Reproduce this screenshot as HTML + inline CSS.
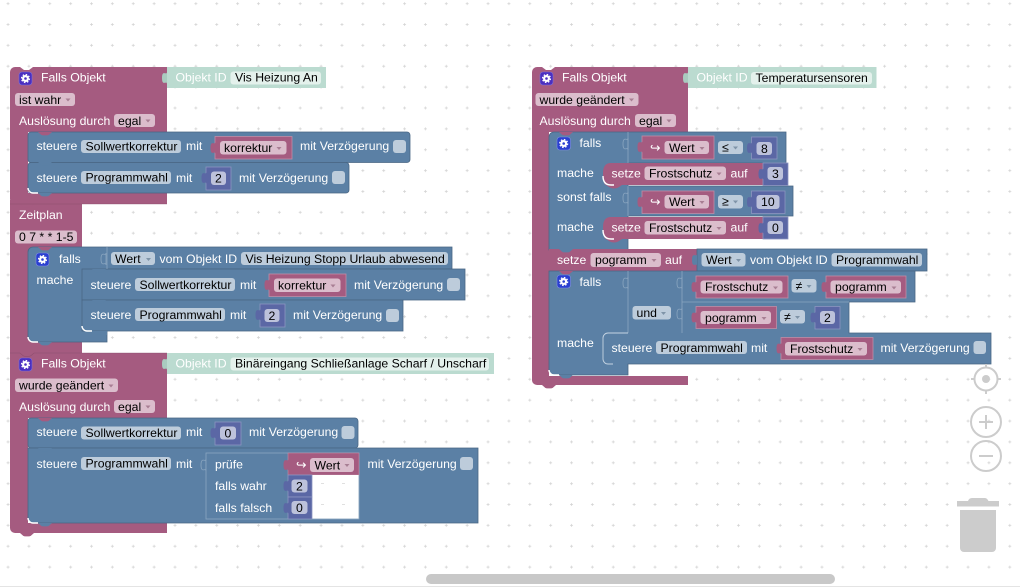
<!DOCTYPE html>
<html><head><meta charset="utf-8"><style>
html,body{margin:0;padding:0;background:#fff;width:1020px;height:587px;overflow:hidden}
svg{display:block}
text{font-family:"Liberation Sans",sans-serif;font-size:12.25px;fill:#fff;white-space:pre}
text.d{fill:#000}
.b{fill:#5b80a5;stroke:#496684;stroke-width:.8}
.n{fill:#5b67a5;stroke:#8c95c0;stroke-width:.8}
.v{fill:#a55b80;stroke:#c08da6;stroke-width:.8}
.fp{fill:#dbbdcc}.fb{fill:#bdccdb}.fn{fill:#bdc2db}.fg{fill:#e4f1ec}
.tp{fill:#a55b80}.tn{fill:#5b67a5}
.sock{fill:none;stroke:#8ba6c0;stroke-width:.8}
.ar{fill:#a87f94}.arb{fill:#7f94a8}
.nb{fill:#5b80a5}.np{fill:#a55b80}
.ctl{fill:none;stroke:#ccc;stroke-width:2}
.hl{fill:none;stroke:#fff;stroke-width:1.4}
.ic{fill:#4a2ec0;stroke:#7f70d8;stroke-width:.6}
.ib{fill:#2a3fd0;stroke:#7f8fe0;stroke-width:.6}
.gear{fill:none;stroke:#fff;stroke-width:2.2}
.teeth{fill:none;stroke:#fff;stroke-width:1.2;stroke-dasharray:1.6 1.54}
</style></head><body>
<svg width="1020" height="587" viewBox="0 0 1020 587" xmlns="http://www.w3.org/2000/svg">
<defs>
<pattern id="grid" x="6.04" y="1.65" width="20.87" height="20.87" patternUnits="userSpaceOnUse">
<path d="M.5 2H3.500M2 .5V3.500" stroke="#d2d2d2" stroke-width=".7"/>
</pattern>
<path id="n" d="M0 0l3 2.600q1 .8 2.500 .8h3q1.500 0 2.500-.8l3-2.600z"/>
<path id="t" d="M0 0c0 4-5-3-5 6s5 2 5 6z"/>
<path id="a" d="M0 0h5l-2.500 3z"/>
<g id="g"><circle cx="6.500" cy="6.500" r="2.400" class="gear"/><circle cx="6.500" cy="6.500" r="4" class="teeth"/></g>
</defs>
<rect width="1020" height="587" fill="#fff"/>
<rect width="1020" height="587" fill="url(#grid)"/>

<!-- LEFT: block 1 -->
<path class="tp" d="M10 72a5 5 0 0 1 5-5h5l4 3h5l4-3H167V132H28V193H167V204H82V357H28V204H15a5 5 0 0 1-5-5z"/>
<rect x="10" y="200" width="18" height="156" class="tp"/>
<rect x="167" y="67" width="159" height="21" fill="#bbdbd0"/>
<use href="#t" x="167" y="72" fill="#a9cbbf"/>
<rect x="19" y="72" width="13" height="13" rx="3" class="ic"/><use href="#g" x="19" y="72"/>
<text x="41" y="81.500">Falls Objekt</text>
<text x="175.500" y="81.500">Objekt ID</text>
<rect x="230.500" y="71.500" width="90.500" height="13" rx="3" class="fg"/><text class="d" x="235" y="81.500">Vis Heizung An</text>
<rect x="15" y="93" width="60" height="13" rx="3" class="fp"/><text class="d" x="19" y="104">ist wahr</text><use href="#a" x="65.500" y="98.500" class="ar"/>
<text x="19" y="125">Auslösung durch</text>
<rect x="114" y="114" width="41" height="13" rx="3" class="fp"/><text class="d" x="118" y="125">egal</text><use href="#a" x="145.500" y="119.500" class="ar"/>

<rect class="b" x="28" y="132" width="382" height="30.500" rx="3"/>
<rect class="b" x="28" y="162.500" width="321" height="30.500" rx="3"/>
<use href="#n" x="38" y="132" class="np"/><use href="#n" x="38" y="162" class="nb"/><use href="#n" x="38" y="193" class="nb"/>
<path class="hl" d="M28 188a5 5 0 0 0 5 5h5"/>
<text x="36.500" y="150">steuere</text>
<rect x="81" y="140" width="100" height="13" rx="3" class="fb"/><text class="d" x="85.500" y="150.500">Sollwertkorrektur</text>
<text x="186" y="150">mit</text>
<rect class="v" x="215" y="136.500" width="77" height="22.500"/><use href="#t" x="215.500" y="142" class="tp"/>
<rect x="220" y="141" width="66.500" height="13.500" rx="3" class="fp"/><text class="d" x="224" y="152">korrektur</text><use href="#a" x="276.500" y="147" class="ar"/>
<text x="300" y="150">mit Verzögerung</text>
<rect x="393" y="140" width="13" height="13" rx="3" class="fb"/>
<text x="36.500" y="182">steuere</text>
<rect x="81" y="171" width="90" height="13" rx="3" class="fb"/><text class="d" x="85.500" y="181.500">Programmwahl</text>
<text x="176" y="182">mit</text>
<rect class="n" x="206" y="167" width="25" height="23"/><use href="#t" x="206.500" y="172" class="tn"/>
<rect x="211" y="171.500" width="15" height="13.500" rx="3" class="fn"/><text class="d" x="215" y="182.500">2</text>
<text x="239" y="182">mit Verzögerung</text>
<rect x="332" y="171" width="13" height="13" rx="3" class="fb"/>
<use href="#n" x="20" y="204" class="np"/>
<path d="M10 204H167" stroke="#844966" stroke-width=".6" opacity=".7"/>

<!-- block 2 Zeitplan -->
<text x="19" y="219">Zeitplan</text>
<rect x="15" y="230.500" width="62" height="13" rx="3" class="fp"/><text class="d" x="19" y="241">0 7 * * 1-5</text>
<path class="b" d="M33 247H452V269H107V342H33a5 5 0 0 1-5-5V252a5 5 0 0 1 5-5z"/>
<rect class="b" x="82" y="269" width="383" height="31"/>
<rect class="b" x="82" y="300" width="321" height="31"/>
<rect x="88" y="331" width="19" height="4" class="nb"/>
<path d="M107 247v22" stroke="#8ba6c0" stroke-width=".8"/>
<use href="#n" x="38" y="247" class="np"/><use href="#n" x="92" y="300" class="nb"/><use href="#n" x="92" y="331" class="nb"/><use href="#n" x="38" y="342" class="nb"/>
<use href="#n" x="92" y="269" class="nb"/>
<path class="hl" d="M28 337a5 5 0 0 0 5 5h5M82 326a5 5 0 0 0 5 5h5"/>
<rect x="36" y="253" width="13" height="13" rx="3" class="ib"/><use href="#g" x="36" y="253"/>
<text x="59" y="263">falls</text>
<use href="#t" x="106" y="253" class="sock"/>
<rect x="111" y="252" width="44" height="13" rx="3" class="fb"/><text class="d" x="115" y="263">Wert</text><use href="#a" x="146" y="258" class="arb"/>
<text x="159.500" y="263">vom Objekt ID</text>
<rect x="241" y="252" width="207" height="13" rx="3" class="fb"/><text class="d" x="245.500" y="263">Vis Heizung Stopp Urlaub abwesend</text>
<text x="36.500" y="284">mache</text>
<text x="90.500" y="289">steuere</text>
<rect x="135" y="278" width="100" height="13" rx="3" class="fb"/><text class="d" x="139.500" y="289">Sollwertkorrektur</text>
<text x="240" y="289">mit</text>
<rect class="v" x="269" y="274" width="77" height="22.500"/><use href="#t" x="269.500" y="279" class="tp"/>
<rect x="274" y="278.500" width="66.500" height="13.500" rx="3" class="fp"/><text class="d" x="278" y="289.500">korrektur</text><use href="#a" x="330.500" y="284.500" class="ar"/>
<text x="354" y="289">mit Verzögerung</text>
<rect x="447" y="278" width="13" height="13" rx="3" class="fb"/>
<text x="90.500" y="319">steuere</text>
<rect x="135" y="308" width="90" height="13" rx="3" class="fb"/><text class="d" x="139.500" y="319">Programmwahl</text>
<text x="230" y="319">mit</text>
<rect class="n" x="260" y="304" width="25" height="23"/><use href="#t" x="260.500" y="309" class="tn"/>
<rect x="264.500" y="309" width="15" height="13" rx="3" class="fn"/><text class="d" x="268.500" y="320">2</text>
<text x="293" y="319">mit Verzögerung</text>
<rect x="386" y="309" width="13" height="13" rx="3" class="fb"/>

<!-- block 3 -->
<path class="tp" d="M10 353H167V418H28V523H167V533H15A5 5 0 0 1 10 528Z"/>
<use href="#n" x="20" y="533" class="np"/>
<path d="M10 353H20l3 2.600q1 .8 2.500 .8h3q1.500 0 2.500-.8l3-2.600H167" fill="none" stroke="#844966" stroke-width=".6" opacity=".7"/>
<rect x="167" y="353" width="327" height="21" fill="#bbdbd0"/>
<use href="#t" x="167" y="358" fill="#a9cbbf"/>
<rect x="19" y="358" width="13" height="13" rx="3" class="ic"/><use href="#g" x="19" y="358"/>
<text x="41" y="367.500">Falls Objekt</text>
<text x="175.500" y="367.500">Objekt ID</text>
<rect x="230.500" y="357.500" width="258.500" height="13" rx="3" class="fg"/><text class="d" x="235" y="367.500">Binäreingang Schließanlage Scharf / Unscharf</text>
<rect x="15" y="378.500" width="103" height="13.500" rx="3" class="fp"/><text class="d" x="19" y="389.500">wurde geändert</text><use href="#a" x="108.500" y="384.500" class="ar"/>
<text x="19" y="411">Auslösung durch</text>
<rect x="114" y="400" width="41" height="13" rx="3" class="fp"/><text class="d" x="118" y="411">egal</text><use href="#a" x="145.500" y="405.500" class="ar"/>

<rect class="b" x="28" y="418" width="330" height="30" rx="3"/>
<path class="b" d="M28 448H478V523H33a5 5 0 0 1-5-5z"/>
<use href="#n" x="38" y="418" class="np"/><use href="#n" x="38" y="448" class="nb"/><use href="#n" x="38" y="523" class="nb"/>
<path class="hl" d="M28 518a5 5 0 0 0 5 5h5"/>
<text x="36.500" y="436">steuere</text>
<rect x="81" y="426.500" width="100" height="13" rx="3" class="fb"/><text class="d" x="85.500" y="437">Sollwertkorrektur</text>
<text x="186" y="436">mit</text>
<rect class="n" x="215" y="422" width="26" height="23"/><use href="#t" x="215.500" y="427" class="tn"/>
<rect x="220" y="426.500" width="16" height="13" rx="3" class="fn"/><text class="d" x="224.500" y="437.500">0</text>
<text x="249" y="436">mit Verzögerung</text>
<rect x="341.500" y="426" width="13" height="13" rx="3" class="fb"/>
<text x="36.500" y="468">steuere</text>
<rect x="81" y="457" width="90" height="13" rx="3" class="fb"/><text class="d" x="85.500" y="467.500">Programmwahl</text>
<text x="176" y="468">mit</text>
<use href="#t" x="206" y="459" class="sock"/>
<rect x="206" y="453" width="153" height="66" fill="#5b80a5" stroke="#8ba6c0" stroke-width=".8"/>
<rect x="288" y="453" width="71" height="22" fill="#a55b80" stroke="#c08da6" stroke-width=".6"/>
<rect x="312" y="475" width="46.600" height="43.600" fill="#fff"/>
<g fill="#d2d2d2"><rect x="321" y="483" width="3" height=".7"/><rect x="342" y="483" width="3" height=".7"/><rect x="321" y="504" width="3" height=".7"/><rect x="342" y="504" width="3" height=".7"/></g>
<rect class="n" x="288" y="475" width="24" height="22"/><rect class="n" x="288" y="497" width="24" height="22"/>
<use href="#t" x="288.500" y="459" class="tp"/><use href="#t" x="288.500" y="480" class="tn"/><use href="#t" x="288.500" y="502" class="tn"/>
<text x="215" y="468.500">prüfe</text>
<text x="296" y="469">↪</text>
<rect x="310" y="458" width="44" height="14" rx="3" class="fp"/><text class="d" x="314.500" y="469.500">Wert</text><use href="#a" x="344.500" y="464" class="ar"/>
<text x="215" y="490">falls wahr</text>
<rect x="291.500" y="479.500" width="16" height="13" rx="3" class="fn"/><text class="d" x="296" y="490.500">2</text>
<text x="215" y="512">falls falsch</text>
<rect x="291.500" y="501" width="16" height="13" rx="3" class="fn"/><text class="d" x="296" y="512">0</text>
<text x="367.500" y="468">mit Verzögerung</text>
<rect x="460" y="457" width="13" height="13" rx="3" class="fb"/>

<!-- RIGHT block -->
<path class="tp" d="M532 72a5 5 0 0 1 5-5h5l4 3h5l4-3H688V132H549V376H688V385H537a5 5 0 0 1-5-5z"/>
<use href="#n" x="542" y="385" class="np"/>
<rect x="688" y="67" width="188.500" height="21" fill="#bbdbd0"/>
<use href="#t" x="688" y="72" fill="#a9cbbf"/>
<rect x="540" y="72" width="13" height="13" rx="3" class="ic"/><use href="#g" x="540" y="72"/>
<text x="562" y="81.500">Falls Objekt</text>
<text x="696.500" y="81.500">Objekt ID</text>
<rect x="751" y="72" width="121" height="12.500" rx="3" class="fg"/><text class="d" x="755.500" y="82">Temperatursensoren</text>
<rect x="535.500" y="93" width="103" height="13" rx="3" class="fp"/><text class="d" x="539.500" y="104">wurde geändert</text><use href="#a" x="629" y="98.500" class="ar"/>
<text x="539.500" y="125">Auslösung durch</text>
<rect x="635" y="114" width="41" height="13" rx="3" class="fp"/><text class="d" x="639" y="125">egal</text><use href="#a" x="666.500" y="119.500" class="ar"/>

<path class="b" d="M554 132H786V163H628V186H793V216H628V250H549V137a5 5 0 0 1 5-5z"/>
<use href="#n" x="559" y="132" class="np"/>
<path d="M628 132v31M628 186v30" stroke="#8ba6c0" stroke-width=".8"/>
<rect x="557" y="137" width="13.500" height="13" rx="3" class="ib"/><use href="#g" x="557.200" y="137"/>
<text x="579.500" y="147">falls</text>
<use href="#t" x="628" y="138" class="sock"/>
<rect class="v" x="642" y="136" width="72" height="23"/><use href="#t" x="642.500" y="141" class="tp"/>
<text x="650" y="152">↪</text>
<rect x="664.500" y="141" width="44.500" height="13" rx="3" class="fp"/><text class="d" x="669" y="152">Wert</text><use href="#a" x="699.500" y="147" class="ar"/>
<rect x="718" y="141" width="25" height="13" rx="3" class="fb"/><text class="d" x="722" y="151.500">≤</text><use href="#a" x="733" y="146.500" class="arb"/>
<rect class="n" x="751.500" y="137" width="25.500" height="22"/><use href="#t" x="752" y="142" class="tn"/>
<rect x="756.500" y="142" width="15.500" height="13" rx="3" class="fn"/><text class="d" x="761" y="153">8</text>
<text x="557" y="177">mache</text>
<path class="tp" d="M603 173q0-10 8-10H788V185H622l-3 2q-2 1.500-5 1.500t-5-1.500l-3-2q-3-.5-3-12z"/>
<path class="hl" d="M603 176q0 9 8 9h3"/>
<rect class="n" x="763" y="163" width="25" height="22.500"/><use href="#t" x="763.500" y="168" class="tn"/>
<text x="611.500" y="177.500">setze</text>
<rect x="644.500" y="166.500" width="81.500" height="13.500" rx="3" class="fp"/><text class="d" x="649" y="177.500">Frostschutz</text><use href="#a" x="716.500" y="172.500" class="ar"/>
<text x="730.500" y="177.500">auf</text>
<rect x="767.500" y="167" width="15.500" height="13" rx="3" class="fn"/><text class="d" x="772" y="178">3</text>

<text x="557" y="201">sonst falls</text>
<use href="#t" x="628" y="192" class="sock"/>
<rect class="v" x="642" y="191" width="72" height="22.500"/><use href="#t" x="642.500" y="196" class="tp"/>
<text x="650" y="206">↪</text>
<rect x="664.500" y="195" width="44.500" height="13.500" rx="3" class="fp"/><text class="d" x="669" y="206">Wert</text><use href="#a" x="699.500" y="201" class="ar"/>
<rect x="718" y="195" width="25" height="13.500" rx="3" class="fb"/><text class="d" x="722" y="205.500">≥</text><use href="#a" x="733" y="200.500" class="arb"/>
<rect class="n" x="751.500" y="191" width="33.500" height="22.500"/><use href="#t" x="752" y="196" class="tn"/>
<rect x="756.500" y="195" width="23" height="14" rx="3" class="fn"/><text class="d" x="761" y="206">10</text>
<text x="557" y="231">mache</text>
<path class="tp" d="M603 227q0-10 8-10H788V239H622l-3 2q-2 1.500-5 1.500t-5-1.500l-3-2q-3-.5-3-12z"/>
<path class="hl" d="M603 230q0 9 8 9h3"/>
<rect class="n" x="763" y="217" width="25" height="22"/><use href="#t" x="763.500" y="222" class="tn"/>
<text x="611.500" y="231.500">setze</text>
<rect x="644.500" y="221" width="81.500" height="13.500" rx="3" class="fp"/><text class="d" x="649" y="232">Frostschutz</text><use href="#a" x="716.500" y="227" class="ar"/>
<text x="730.500" y="231.500">auf</text>
<rect x="767.500" y="221" width="15.500" height="13" rx="3" class="fn"/><text class="d" x="772" y="232">0</text>

<rect x="549" y="249" width="148" height="22" class="tp"/>
<use href="#n" x="559" y="249" class="nb"/>
<rect class="b" x="697" y="249" width="230" height="22"/>
<use href="#t" x="697" y="254" class="nb"/>
<text x="557" y="264">setze</text>
<rect x="590.500" y="253" width="70.500" height="14" rx="3" class="fp"/><text class="d" x="595" y="264">pogramm</text><use href="#a" x="651.500" y="259" class="ar"/>
<text x="665" y="264">auf</text>
<rect x="701.500" y="253" width="44" height="13.500" rx="3" class="fb"/><text class="d" x="706" y="264">Wert</text><use href="#a" x="736" y="259" class="arb"/>
<text x="750" y="264">vom Objekt ID</text>
<rect x="831.500" y="253" width="90.500" height="13.500" rx="3" class="fb"/><text class="d" x="836" y="264">Programmwahl</text>

<path class="b" d="M549 271H915V302H849V333H991V364H628V375H554a5 5 0 0 1-5-5z"/>
<use href="#n" x="559" y="271" class="np"/>
<path d="M628 271v62M682 271v62M682 302H849" stroke="#8ba6c0" stroke-width=".8" fill="none"/>
<use href="#t" x="628" y="277" class="sock"/><use href="#t" x="682" y="277" class="sock"/><use href="#t" x="682" y="308" class="sock"/>
<rect x="557" y="275" width="13.500" height="13" rx="3" class="ib"/><use href="#g" x="557.200" y="275"/>
<text x="579.500" y="286">falls</text>
<rect class="v" x="696" y="276" width="92" height="22"/><use href="#t" x="696.500" y="281" class="tp"/>
<rect x="700.500" y="280.500" width="82" height="13" rx="3" class="fp"/><text class="d" x="705" y="291">Frostschutz</text><use href="#a" x="773" y="286.500" class="ar"/>
<rect x="791.500" y="279" width="25" height="13.500" rx="3" class="fb"/><text class="d" x="795.500" y="290">≠</text><use href="#a" x="806.500" y="285" class="arb"/>
<rect class="v" x="826" y="276" width="80" height="22"/><use href="#t" x="826.500" y="281" class="tp"/>
<rect x="830.500" y="280.500" width="70.500" height="13" rx="3" class="fp"/><text class="d" x="835" y="291">pogramm</text><use href="#a" x="891.500" y="286.500" class="ar"/>
<rect x="632.500" y="306" width="38.500" height="13.500" rx="3" class="fb"/><text class="d" x="636.500" y="317">und</text><use href="#a" x="661" y="312" class="arb"/>
<rect class="v" x="696" y="306.500" width="80.500" height="22"/><use href="#t" x="696.500" y="311.500" class="tp"/>
<rect x="700.500" y="311" width="70.500" height="13" rx="3" class="fp"/><text class="d" x="705" y="322">pogramm</text><use href="#a" x="761.500" y="317" class="ar"/>
<rect x="780" y="310" width="25" height="13.500" rx="3" class="fb"/><text class="d" x="784" y="321">≠</text><use href="#a" x="795" y="316" class="arb"/>
<rect class="n" x="815" y="306.500" width="25" height="22.500"/><use href="#t" x="815.500" y="311.500" class="tn"/>
<rect x="820" y="311" width="15" height="13" rx="3" class="fn"/><text class="d" x="824" y="322">2</text>
<text x="557" y="347">mache</text>
<path d="M603 338a5 5 0 0 1 5-5h20M603 338v21a5 5 0 0 0 5 5h5" fill="none" stroke="#c6d4e2" stroke-width=".9"/>
<use href="#n" x="613" y="364" class="nb"/><use href="#n" x="559" y="375" class="nb"/>
<path class="hl" d="M549 370a5 5 0 0 0 5 5h5"/>
<text x="611.500" y="352">steuere</text>
<rect x="656" y="341" width="91" height="13" rx="3" class="fb"/><text class="d" x="660.500" y="352">Programmwahl</text>
<text x="751" y="352">mit</text>
<rect class="v" x="781" y="337.500" width="92" height="22"/><use href="#t" x="781.500" y="342.500" class="tp"/>
<rect x="785" y="342" width="82" height="13.500" rx="3" class="fp"/><text class="d" x="790" y="353">Frostschutz</text><use href="#a" x="857.500" y="348" class="ar"/>
<text x="880.500" y="352">mit Verzögerung</text>
<rect x="973.500" y="341" width="12.500" height="13" rx="3" class="fb"/>

<!-- Controls -->
<circle class="ctl" cx="986" cy="379" r="11.500"/><circle cx="986" cy="379" r="4" fill="#ccc"/>
<path d="M986 364v4M986 390v4M971 379h4M997 379h4" stroke="#ccc" stroke-width="2"/>
<circle class="ctl" cx="986" cy="422" r="15"/><path d="M986 415v14M979 422h14" stroke="#ccc" stroke-width="2"/>
<circle class="ctl" cx="986" cy="456" r="15"/><path d="M979 456h14" stroke="#ccc" stroke-width="2"/>
<path d="M957 501h11q1-3 4-3h13q2 0 3.500 3H999v5.500H957z" fill="#ccc"/>
<path d="M960 510h36v38a4 4 0 0 1-4 4h-28a4 4 0 0 1-4-4z" fill="#ccc"/>

<!-- scrollbar -->
<rect x="426" y="574" width="409" height="10" rx="5" fill="#c8c8c8"/>
<rect x="0" y="586" width="1020" height="1" fill="#e4e4e4"/>
</svg>
</body></html>
